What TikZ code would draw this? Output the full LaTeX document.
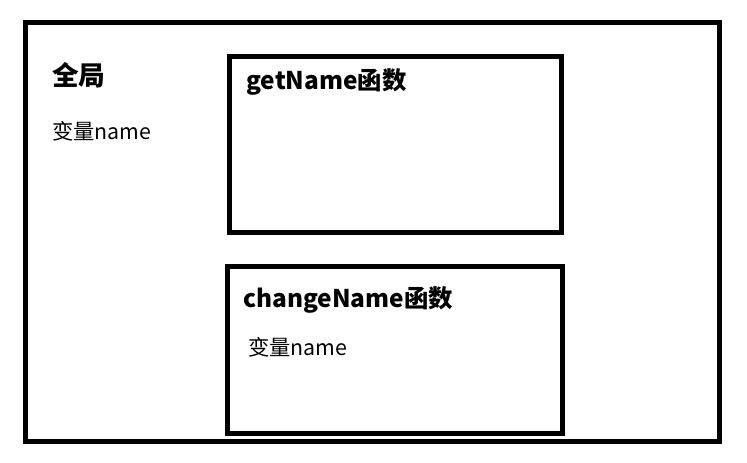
\documentclass[tikz,border=0pt]{standalone}
\usepackage{fontspec}
\setmainfont{Noto Sans CJK SC}
\begin{document}
\begin{tikzpicture}[x=0.75pt,y=-0.75pt,
  frame/.style={draw=black,line width=3.75pt},
  heading/.style={anchor=west,inner sep=0pt,font=\fontsize{18.3}{21}\selectfont\bfseries},
  bigheading/.style={anchor=west,inner sep=0pt,font=\fontsize{20}{24}\selectfont\bfseries},
  label/.style={anchor=west,inner sep=0pt,font=\fontsize{16}{19}\selectfont}]
\useasboundingbox[fill=white] (0,0) rectangle (747,462);
\draw[frame] (25.5,22.5) rectangle (719,441.5);
\draw[frame] (229.5,56.5) rectangle (561.5,232);
\draw[frame] (227.5,266.5) rectangle (562,433);
\node[bigheading] (global) at (52,75) {全局};
\node[label] (gvar) at (52,131) {变量name};
\node[heading] (getname) at (246,82) {getName函数};
\node[heading] (changename) at (243,300) {changeName函数};
\node[label] (cvar) at (248,347) {变量name};
\end{tikzpicture}
\end{document}
